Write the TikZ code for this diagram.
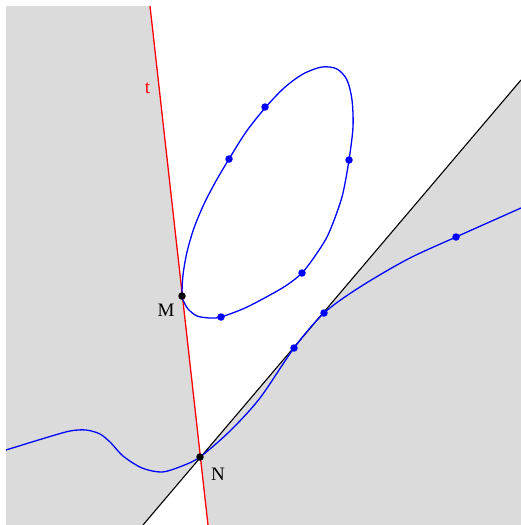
\documentclass[tikz,border=0pt]{standalone}
\usepackage{fontspec}
\setmainfont{Liberation Serif}
\usetikzlibrary{positioning}
\definecolor{regiongray}{RGB}{219, 219, 219}
\definecolor{curveblue}{RGB}{0, 0, 255}
\definecolor{tred}{RGB}{255, 0, 0}

\begin{document}
\begin{tikzpicture}[x=1pt, y=-1pt,
    curve/.style={curveblue, line width=1.3pt},
    bdot/.style={circle, fill=curveblue, inner sep=0pt, minimum size=7.5pt},
    kdot/.style={circle, fill=black, inner sep=0pt, minimum size=7.5pt},
    lbl/.style={font=\fontsize{19}{22}\selectfont, inner sep=0pt}
  ]
    \useasboundingbox (0,0) rectangle (521,525);
    \coordinate (pM) at (182,296);
    \coordinate (pN) at (200,457);
    \coordinate (tTop) at (150,6);
    \coordinate (tBot) at (208,525);
    \coordinate (sTop) at (521,80);
    \coordinate (sBot) at (143,525);
    % shaded opposite angles
    \fill[regiongray] (6,6) -- (tTop) -- (pN) -- (sBot) -- (6,525) -- cycle;
    \fill[regiongray] (pN) -- (tBot) -- (521,525) -- (sTop) -- cycle;
    % the two lines
    \draw[tred, line width=1.3pt] (tTop) -- (tBot);
    \draw[black, line width=1.1pt] (sBot) -- (sTop);
    % oval
    \draw[curve] plot[smooth cycle] coordinates {
      (182,296) (183,275) (187,252) (194,228) (204,204) (216,181)
      (229,159) (246,132) (265,108) (284,88) (303,74) (322,67)
      (337,69) (347,80) (352,100) (353,127) (349,160) (343,193)
      (336,215) (327,237) (315,256) (302,273) (287,285) (270,295)
      (245,308) (221,317) (210,318) (197,316) (188,309) (184,302)};
    % unbounded branch
    \draw[curve] plot[smooth] coordinates {
      (6,450) (45,438) (70,431) (86,430) (100,434) (111,443) (123,456)
      (142,468) (162,472) (182,466) (200,457) (230,431) (260,398)
      (294,348) (324,313) (360,287) (408,259) (456,237) (521,208)};
    % points
    \node[bdot] (a1) at (265,107) {};
    \node[bdot] (a2) at (229,159) {};
    \node[bdot] (a3) at (349,160) {};
    \node[bdot] (a4) at (302,273) {};
    \node[bdot] (a5) at (221,317) {};
    \node[bdot] (b1) at (294,348) {};
    \node[bdot] (b2) at (324,313) {};
    \node[bdot] (b3) at (456,237) {};
    \node[kdot] (M) at (pM) {};
    \node[kdot] (N) at (pN) {};
    % labels
    \node[lbl, text=tred] (tlab) at (147.5,88.5) {t};
    \node[lbl] (Mlab) at (166,310) {M};
    \node[lbl] (Nlab) at (218,474) {N};
\end{tikzpicture}
\end{document}
